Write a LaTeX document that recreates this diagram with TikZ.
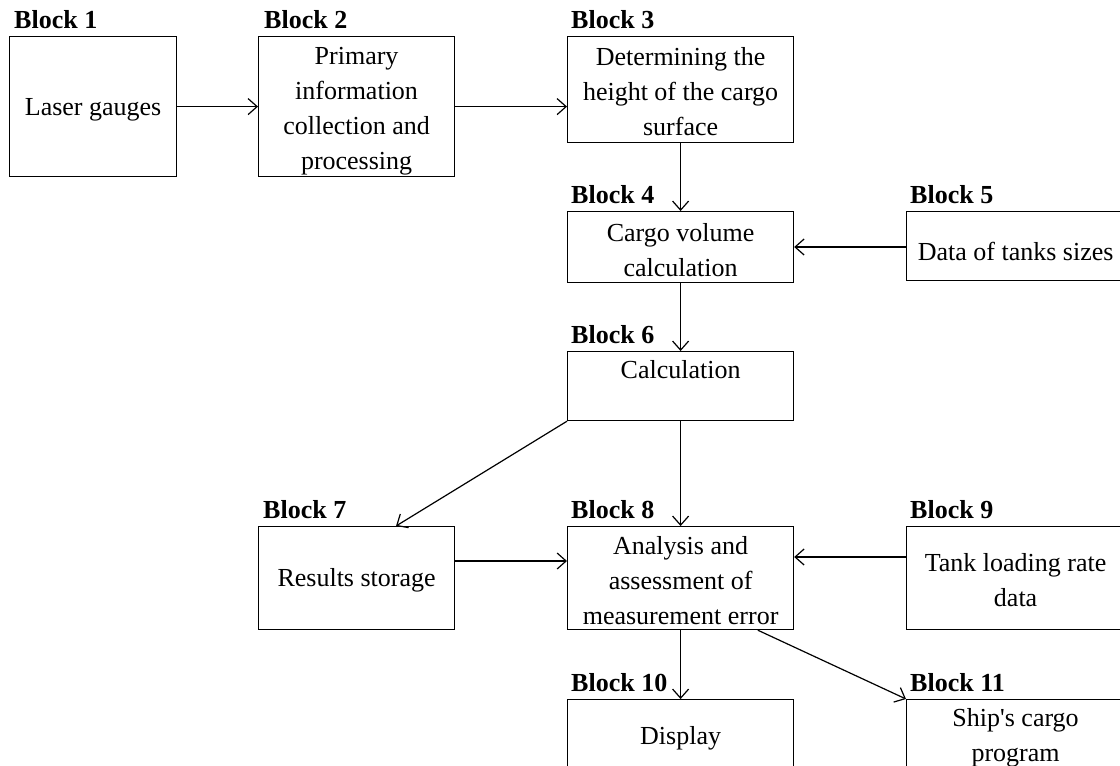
\documentclass[tikz,border=0pt]{standalone}
\usepackage{fontspec}
\setmainfont{Liberation Serif}
\usetikzlibrary{arrows.meta,calc}
\begin{document}
\begin{tikzpicture}[x=1pt,y=-1pt,
  box/.style={draw,line width=1.2pt,inner sep=0pt,anchor=north west},
  txt/.style={font=\fontsize{26}{35}\selectfont,align=center,inner sep=0pt},
  lbl/.style={font=\fontsize{26}{30}\selectfont\bfseries,inner sep=0pt,anchor=base west},
  arr/.style={line width=1.2pt,-{Straight Barb[length=9pt,width=16pt,line width=1.2pt]}}]
\useasboundingbox (0,0) rectangle (1120,766);
\clip (0,0) rectangle (1120,766);
% boxes
\node[box,minimum width=167pt,minimum height=140pt] (b1) at (9,36) {};
\node[box,minimum width=196pt,minimum height=140pt] (b2) at (258,36) {};
\node[box,minimum width=226pt,minimum height=106pt] (b3) at (567,36) {};
\node[box,minimum width=226pt,minimum height=71pt] (b4) at (567,211) {};
\node[box,minimum width=218pt,minimum height=69pt] (b5) at (906,211) {};
\node[box,minimum width=226pt,minimum height=69pt] (b6) at (567,351) {};
\node[box,minimum width=196pt,minimum height=103pt] (b7) at (258,526) {};
\node[box,minimum width=226pt,minimum height=103pt] (b8) at (567,526) {};
\node[box,minimum width=218pt,minimum height=103pt] (b9) at (906,526) {};
\node[box,minimum width=226pt,minimum height=72pt] (b10) at (567,699) {};
\node[box,minimum width=218pt,minimum height=72pt] (b11) at (906,699) {};
% labels
\node[lbl] (l1) at ([xshift=5pt,yshift=8pt]b1.north west) {Block 1};
\node[lbl] (l2) at ([xshift=6pt,yshift=8pt]b2.north west) {Block 2};
\node[lbl] (l3) at ([xshift=4pt,yshift=8pt]b3.north west) {Block 3};
\node[lbl] (l4) at ([xshift=4pt,yshift=8pt]b4.north west) {Block 4};
\node[lbl] (l5) at ([xshift=4pt,yshift=8pt]b5.north west) {Block 5};
\node[lbl] (l6) at ([xshift=4pt,yshift=8pt]b6.north west) {Block 6};
\node[lbl] (l7) at ([xshift=5pt,yshift=8pt]b7.north west) {Block 7};
\node[lbl] (l8) at ([xshift=4pt,yshift=8pt]b8.north west) {Block 8};
\node[lbl] (l9) at ([xshift=4pt,yshift=8pt]b9.north west) {Block 9};
\node[lbl] (l10) at ([xshift=4pt,yshift=8pt]b10.north west) {Block 10};
\node[lbl] (l11) at ([xshift=4pt,yshift=8pt]b11.north west) {Block 11};
% texts
\node[txt] (t1) at ([yshift=-3pt]b1.center) {Laser gauges};
\node[txt] (t2) at ([yshift=-5pt]b2.center) {Primary\\information\\collection and\\processing};
\node[txt] (t3) at ([yshift=-2pt]b3.center) {Determining the\\height of the cargo\\surface};
\node[txt] (t4) at ([yshift=-3pt]b4.center) {Cargo volume\\calculation};
\node[txt] (t5) at ([yshift=-5pt]b5.center) {Data of tanks sizes};
\node[txt] (t6) at ([yshift=-19pt]b6.north) {Calculation};
\node[txt] (t7) at ([yshift=-2pt]b7.center) {Results storage};
\node[txt] (t8) at ([yshift=-2pt]b8.center) {Analysis and\\assessment of\\measurement error};
\node[txt] (t9) at ([yshift=-2pt]b9.center) {Tank loading rate\\data};
\node[txt] (t10) at ([yshift=-3pt]b10.center) {Display};
\node[txt] (t11) at ([yshift=-2pt]b11.center) {Ship\textquotesingle s cargo\\program};
% connectors
\draw[arr] (b1.east) -- (b2.west);
\draw[arr] (b2.east) -- (b2.east -| b3.west);
\draw[arr] (b3.south) -- (b4.north);
\draw[arr] ([yshift=-36pt]b5.north west) -- ([yshift=-36pt]b5.north west -| b4.east);
\draw[arr] (b4.south) -- (b6.north);
\draw[arr] (b6.south west) -- ($(b7.north west)!0.70!(b7.north east)$);
\draw[arr] (b6.south) -- (b8.north);
\draw[arr] ([yshift=-35pt]b7.north east) -- ([yshift=-35pt]b7.north east -| b8.west);
\draw[arr] ([yshift=-31pt]b9.north west) -- ([yshift=-31pt]b9.north west -| b8.east);
\draw[arr] (b8.south) -- (b10.north);
\draw[arr] ($(b8.south west)!0.84!(b8.south east)$) -- (b11.north west);
\end{tikzpicture}
\end{document}
